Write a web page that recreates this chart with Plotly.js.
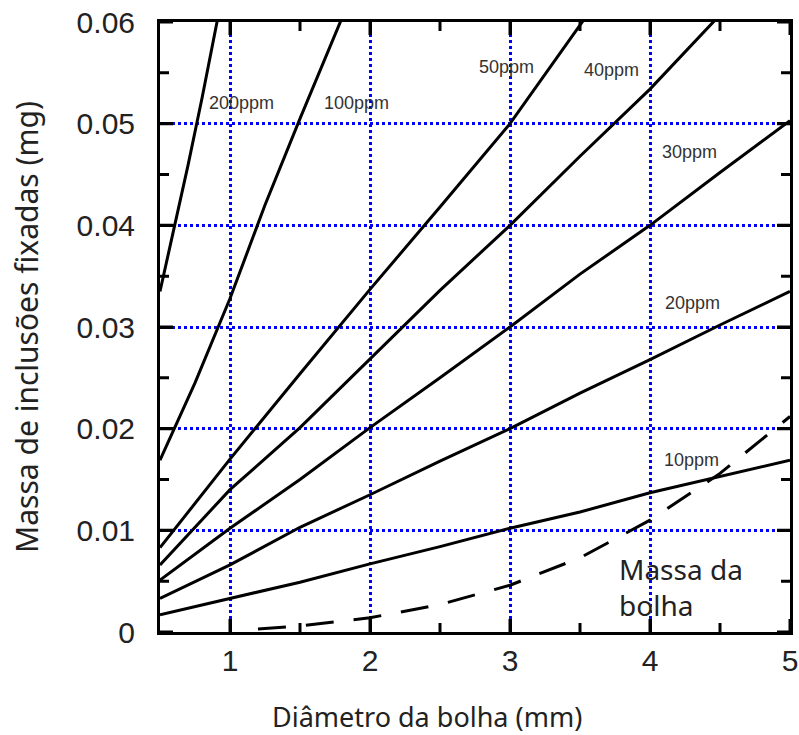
<!DOCTYPE html>
<html>
<head>
<meta charset="utf-8">
<script src="https://cdn.plot.ly/plotly-3.0.1.min.js"></script>
<style>html,body{margin:0;padding:0;background:#fff;}#wrap{position:relative;width:799px;height:735px;}#chart{width:799px;height:735px;}#frame{position:absolute;left:0;top:0;pointer-events:none;}</style>
</head>
<body>
<div id="wrap"><div id="chart"></div><svg id="frame" width="799" height="735" xmlns="http://www.w3.org/2000/svg"></svg></div>
<script>
// Diameter grid (mm) shared by the curves that span the whole axis
const diam = [0.5, 1.0, 1.5, 2.0, 2.5, 3.0, 3.5, 4.0, 4.5, 5.0];

// Mass of attached inclusions (mg) per inclusion content
const x200 = [0.5, 0.6, 0.7, 0.8, 0.9, 1.0];
const y200 = [0.0335, 0.0396, 0.0459, 0.0525, 0.0595, 0.0665];
const x100 = [0.5, 0.75, 1.0, 1.25, 1.5, 1.75, 2.0];
const y100 = [0.0169, 0.0245, 0.0328, 0.0420, 0.0505, 0.0588, 0.0670];
const x50 = [0.5, 1.0, 1.5, 2.0, 2.5, 3.0, 3.5, 3.75];
const y50 = [0.0083, 0.0170, 0.0254, 0.0337, 0.0418, 0.0500, 0.0597, 0.0645];
const x40 = [0.5, 1.0, 1.5, 2.0, 2.5, 3.0, 3.5, 4.0, 4.5, 4.75];
const y40 = [0.0066, 0.0140, 0.0201, 0.0268, 0.0336, 0.0400, 0.0468, 0.0534, 0.0607, 0.0640];
const y30 = [0.0051, 0.0102, 0.0150, 0.0201, 0.0250, 0.0300, 0.0352, 0.0400, 0.0452, 0.0503];
const y20 = [0.0033, 0.0066, 0.0103, 0.0135, 0.0168, 0.0200, 0.0235, 0.0268, 0.0302, 0.0335];
const y10 = [0.0017, 0.0033, 0.0049, 0.0067, 0.0084, 0.0102, 0.0118, 0.0137, 0.0153, 0.0169];

// Bubble mass (dashed)
const xBolha = [1.2, 1.5, 2.0, 2.5, 3.0, 3.5, 4.0, 4.5, 5.0];
const yBolha = [0.0003, 0.0006, 0.0014, 0.0027, 0.0046, 0.0073, 0.0110, 0.0156, 0.0212];

// Labels
const seriesNames = ['200ppm', '100ppm', '50ppm', '40ppm', '30ppm', '20ppm', '10ppm'];
const labelX = [0.836, 1.657, 2.764, 3.514, 4.071, 4.093, 4.086];
const labelY = [0.0520, 0.0520, 0.0556, 0.0553, 0.0472, 0.03235, 0.0169];
const bolhaLabel = 'Massa da<br>bolha';
const xTitle = 'Diâmetro da bolha (mm)';
const yTitle = 'Massa de inclusões fixadas (mg)';

// Ticks
const xTickVals = [1, 2, 3, 4, 5];
const yTickVals = [0, 0.01, 0.02, 0.03, 0.04, 0.05, 0.06];
const xMinorVals = [1.5, 2.5, 3.5, 4.5];
const yMinorVals = [0.005, 0.015, 0.025, 0.035, 0.045, 0.055];

const xs = [x200, x100, x50, x40, diam, diam, diam];
const ys = [y200, y100, y50, y40, y30, y20, y10];

const traces = seriesNames.map((n, i) => ({
  x: xs[i], y: ys[i], name: n, type: 'scatter', mode: 'lines', line: {color: '#000', width: 3}
}));
traces.push({
  x: xBolha, y: yBolha, name: 'Massa da bolha', type: 'scatter', mode: 'lines',
  line: {color: '#000', width: 3, dash: '28px,20px'}
});

const annFont = {family: 'Liberation Sans, Arial, sans-serif', size: 18, color: '#333'};
const annotations = seriesNames.map((n, i) => ({
  x: labelX[i], y: labelY[i], xref: 'x', yref: 'y', text: n, showarrow: false,
  xanchor: 'left', yanchor: 'middle', font: annFont
}));
annotations.push({
  x: 3.764, y: 0.00447, xref: 'x', yref: 'y', text: bolhaLabel, showarrow: false,
  xanchor: 'left', yanchor: 'middle', align: 'left',
  font: {family: 'Noto Sans, Open Sans, sans-serif', size: 28, color: '#222'}
});
// x-axis title, placed left of centre as in the original
annotations.push({
  x: 0.424, y: -0.139, xref: 'paper', yref: 'paper', text: xTitle, showarrow: false,
  xanchor: 'center', yanchor: 'middle',
  font: {family: 'Noto Sans, Open Sans, sans-serif', size: 27, color: '#222'}
});

const tickFont = {family: 'Liberation Sans, Arial, sans-serif', size: 30, color: '#222'};
const MAJOR = 13, MINOR = 9, LW = 3;

const layout = {
  width: 799, height: 735,
  margin: {l: 160, r: 9, t: 22, b: 103},
  showlegend: false,
  xaxis: {
    range: [0.5, 5], tickmode: 'array', tickvals: xTickVals,
    showline: true, linecolor: '#000', linewidth: LW, mirror: 'allticks', zeroline: false,
    ticks: 'inside', ticklen: MAJOR, tickwidth: LW, tickcolor: '#000',
    showgrid: true, gridcolor: '#0000ff', gridwidth: 3, griddash: 'dot',
    tickfont: tickFont
  },
  yaxis: {
    range: [0, 0.06], tickmode: 'array', tickvals: yTickVals,
    showline: true, linecolor: '#000', linewidth: LW, mirror: 'allticks', zeroline: false,
    ticks: 'inside', ticklen: MAJOR, tickwidth: LW, tickcolor: '#000',
    showgrid: true, gridcolor: '#0000ff', gridwidth: 3, griddash: 'dot',
    tickfont: tickFont, ticklabelstandoff: 16,
    title: {text: yTitle, standoff: 30,
      font: {family: 'Noto Sans, Open Sans, sans-serif', size: 30, color: '#222'}}
  },
  annotations: annotations
};

const gd = document.getElementById('chart');
Plotly.newPlot(gd, traces, layout, {staticPlot: true}).then(() => {
  // frame and inside ticks (major + minor), placed with the axes' own scales
  const fl = gd._fullLayout, s = fl._size, xa = fl.xaxis, ya = fl.yaxis;
  const L = s.l, T = s.t, W = s.w, H = s.h;
  const px = v => L + xa.l2p(v);
  const py = v => T + ya.l2p(v);
  let d = '';
  const xt = (v, len) => { const p = px(v); d += `M${p},${T + H}v${-len}M${p},${T}v${len}`; };
  const yt = (v, len) => { const p = py(v); d += `M${L},${p}h${len}M${L + W},${p}h${-len}`; };
  xTickVals.forEach(v => xt(v, MAJOR));
  xMinorVals.forEach(v => xt(v, MINOR));
  yTickVals.forEach(v => yt(v, MAJOR));
  yMinorVals.forEach(v => yt(v, MINOR));
  const ns = 'http://www.w3.org/2000/svg';
  const svg = document.getElementById('frame');
  const ticks = document.createElementNS(ns, 'path');
  ticks.setAttribute('d', d);
  ticks.setAttribute('stroke', '#000');
  ticks.setAttribute('stroke-width', LW);
  ticks.setAttribute('fill', 'none');
  svg.appendChild(ticks);
  const rect = document.createElementNS(ns, 'rect');
  rect.setAttribute('x', L - LW / 2);
  rect.setAttribute('y', T - LW / 2);
  rect.setAttribute('width', W + LW);
  rect.setAttribute('height', H + LW);
  rect.setAttribute('stroke', '#000');
  rect.setAttribute('stroke-width', LW);
  rect.setAttribute('fill', 'none');
  svg.appendChild(rect);
});
</script>
</body>
</html>
